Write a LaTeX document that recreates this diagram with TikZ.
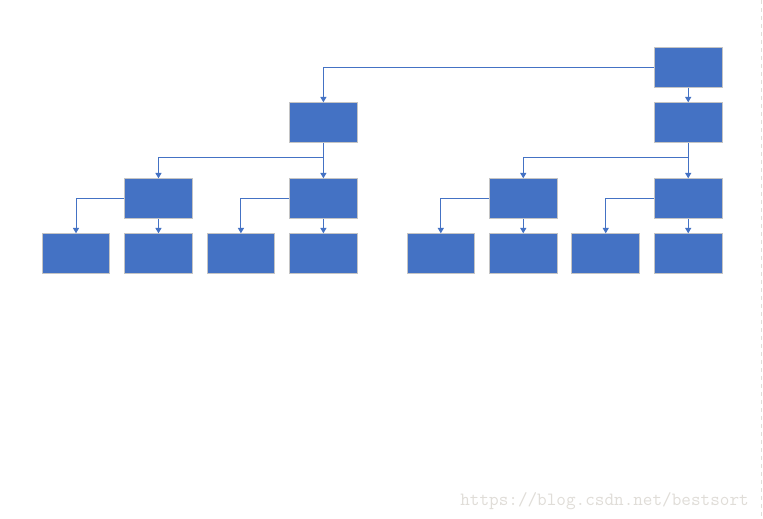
\documentclass[tikz,border=0pt]{standalone}
\usetikzlibrary{arrows.meta,positioning}

\definecolor{boxblue}{HTML}{4472C4}
\definecolor{boxrim}{HTML}{C4C4C4}
\definecolor{marktext}{HTML}{E0DDD8}

\tikzset{
  block/.style={rectangle,draw=boxrim,fill=boxblue,line width=0.75pt,
                minimum width=50.7pt,minimum height=30pt,inner sep=0pt},
  link/.style={draw=boxblue,line width=0.75pt,->},
  >={Triangle[width=4.5pt,length=4pt]}
}

\begin{document}
\begin{tikzpicture}[x=0.75pt,y=-0.75pt,node distance=10.4pt]
  \useasboundingbox (0,0) rectangle (763,518);
  \fill[white] (0,0) rectangle (763,518);
  \draw[marktext,line width=0.75pt,dashed] (761.5,0) -- (761.5,518);

  % bottom row
  \node[block] (leaf a)                        at (76,253.8) {};
  \node[block] (leaf b) [right=of leaf a]      {};
  \node[block] (leaf c) [right=of leaf b]      {};
  \node[block] (leaf d) [right=of leaf c]      {};
  \node[block] (leaf e) [right=36.6pt of leaf d] {};
  \node[block] (leaf f) [right=of leaf e]      {};
  \node[block] (leaf g) [right=of leaf f]      {};
  \node[block] (leaf h) [right=of leaf g]      {};

  % parents sit over their right child
  \node[block] (mid a)  [above=10.5pt of leaf b]  {};
  \node[block] (mid b)  [above=10.5pt of leaf d]  {};
  \node[block] (mid c)  [above=10.5pt of leaf f]  {};
  \node[block] (mid d)  [above=10.5pt of leaf h]  {};
  \node[block] (top a)  [above=26.25pt of mid b]  {};
  \node[block] (top b)  [above=26.25pt of mid d]  {};
  \node[block] (root)   [above=10.5pt of top b]   {};

  \draw[link] (root.west) -| (top a);
  \draw[link] (root)      to (top b);

  \draw[link] (top a.south) -- ++(0,14) -| (mid a);
  \draw[link] (top a)       to (mid b);
  \draw[link] (top b.south) -- ++(0,14) -| (mid c);
  \draw[link] (top b)       to (mid d);

  \draw[link] (mid a.west) -| (leaf a);
  \draw[link] (mid a)      to (leaf b);
  \draw[link] (mid b.west) -| (leaf c);
  \draw[link] (mid b)      to (leaf d);
  \draw[link] (mid c.west) -| (leaf e);
  \draw[link] (mid c)      to (leaf f);
  \draw[link] (mid d.west) -| (leaf g);
  \draw[link] (mid d)      to (leaf h);

  \node[text=marktext,font=\ttfamily\fontsize{14pt}{16pt}\selectfont,
        anchor=base east,inner sep=0pt] (mark) at (749,505)
        {https://blog.csdn.net/bestsort};
\end{tikzpicture}
\end{document}
